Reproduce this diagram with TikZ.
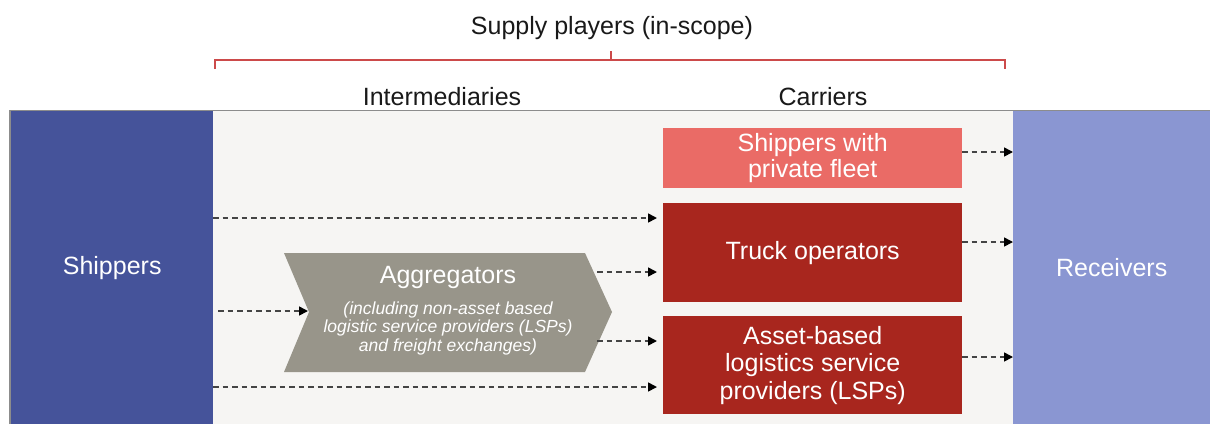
\documentclass[tikz,border=0pt]{standalone}
\usepackage{fontspec}
\setmainfont{Liberation Sans}
\usetikzlibrary{arrows.meta,calc}
\definecolor{panel}{HTML}{F6F5F3}
\definecolor{shipc}{HTML}{45539A}
\definecolor{recc}{HTML}{8A96D2}
\definecolor{pinkc}{HTML}{EA6B66}
\definecolor{redc}{HTML}{A8261E}
\definecolor{aggc}{HTML}{98958A}
\definecolor{bracec}{HTML}{CC4A4A}
\definecolor{dashc}{HTML}{444444}
\tikzset{
  colbox/.style={draw=none, minimum width=202pt, minimum height=313pt, anchor=north west, text=white, font=\fontsize{25}{28}\selectfont, inner sep=0pt},
  carbox/.style={draw=none, minimum width=299pt, anchor=north west, text=white, align=center, font=\fontsize{25}{27.5}\selectfont, inner sep=0pt},
  flow/.style={dash pattern=on 5.5pt off 4pt, line width=1.6pt, color=dashc, -{Triangle[length=9pt,width=9pt,color=black]}},
  hdr/.style={font=\fontsize{25}{28}\selectfont, text=black!90},
}
\begin{document}
\begin{tikzpicture}[x=1pt,y=-1pt]
\useasboundingbox (0,0) rectangle (1210,424);
% panel
\fill[panel] (10,111) rectangle (1210,424);
\draw[black!45, line width=1.2pt] (10,424) -- (10,110.5) -- (1210,110.5);
% columns
\node[colbox, fill=shipc] (ship) at (11,111) {\raisebox{-4pt}{Shippers}};
\node[colbox, fill=recc, minimum width=197pt] (rec) at (1013,111) {\raisebox{-2pt}{Receivers}};
% headers
\node[hdr] (title) at (612,28) {Supply players (in-scope)};
\node[hdr] (inter) at (442,97) {Intermediaries};
\node[hdr] (carr) at (823,97) {Carriers};
% brace
\draw[bracec, line width=1.5pt] (215,69) -- (215,60) -- (1005,60) -- (1005,69);
\draw[bracec, line width=1.5pt] (611,60) -- (611,51);
% carriers
\node[carbox, fill=pinkc, minimum height=60pt] (fleet) at (663,128) {\raisebox{-3pt}{\shortstack{Shippers with\\private fleet}}};
\node[carbox, fill=redc, minimum height=99pt] (truck) at (663,203) {\raisebox{-2pt}{Truck operators}};
\node[carbox, fill=redc, minimum height=98pt] (asset) at (663,316) {Asset-based\\logistics service\\providers (LSPs)};
% aggregator chevron
\fill[aggc] (284,253) -- (585,253) -- (612,312) -- (585,372) -- (284,372) -- (309,312) -- cycle;
\coordinate (notch) at (308,311);
\node[text=white, font=\fontsize{25}{28}\selectfont] (agg) at (448,277) {Aggregators};
\node[text=white, align=center, font=\fontsize{17.5}{18.5}\itshape] (aggsub) at (448,328) {(including non-asset based\\logistic service providers (LSPs)\\and freight exchanges)};
% connectors
\coordinate (s1) at (213,218);
\coordinate (s2) at (218,311);
\coordinate (s3) at (213,387);
\coordinate (a1) at (597,272);
\coordinate (a2) at (597,341);
\coordinate (e1) at (657,218);
\coordinate (e3) at (657,387);
\coordinate (e4) at (657,272);
\coordinate (e5) at (657,341);
\draw[flow] (s1) -- (e1);
\draw[flow] (s2) -- (notch);
\draw[flow] (s3) -- (e3);
\draw[flow] (a1) -- (e4);
\draw[flow] (a2) -- (e5);
\coordinate (f1) at (962,152);
\coordinate (t1) at (962,242);
\coordinate (r1) at (962,357);
\draw[flow] (f1) -- (rec.west |- f1);
\draw[flow] (t1) -- (rec.west |- t1);
\draw[flow] (r1) -- (rec.west |- r1);
\end{tikzpicture}
\end{document}
